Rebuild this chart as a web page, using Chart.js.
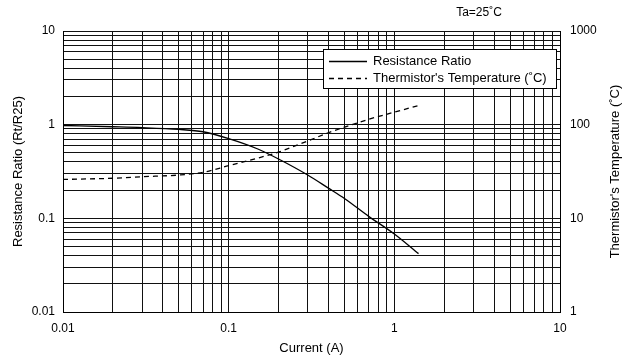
<!DOCTYPE html>
<html>
<head>
<meta charset="utf-8">
<script src="https://cdn.jsdelivr.net/npm/chart.js@4"></script>
<style>
  body { margin: 0; background: #fff; }
  #wrap { width: 636px; height: 364px; }
</style>
</head>
<body>
<div id="wrap"><canvas id="myChart"></canvas></div>
<script>
// current through the thermistor (A)
const current = [0.01, 0.02, 0.03, 0.05, 0.07, 0.1, 0.15, 0.2, 0.3, 0.4, 0.5, 0.7, 1.0, 1.4];
// Rt/R25
const ratio = [0.98, 0.95, 0.93, 0.89, 0.84, 0.71, 0.55, 0.43, 0.29, 0.21, 0.163, 0.105, 0.068, 0.042];
// thermistor temperature (deg C)
const temperature = [26, 26.8, 27.8, 29, 31, 36.5, 44, 51, 67, 82, 94, 114, 136, 160];

const xTicks = [0.01, 0.1, 1, 10];
const leftTicks = [0.01, 0.1, 1, 10];
const rightTicks = [1, 10, 100, 1000];

const fontFamily = '"Liberation Sans", Arial, sans-serif';

// 1..9 per decade so every minor line gets drawn
function decadeTicks(decades) {
  const out = [];
  for (let i = 0; i < decades.length - 1; i++) {
    for (let m = 1; m < 10; m++) out.push({ value: +(decades[i] * m).toPrecision(3) });
  }
  out.push({ value: decades[decades.length - 1] });
  return out;
}

function decadeLabel(v) {
  const l = Math.log10(v);
  return Math.abs(l - Math.round(l)) < 1e-9 ? String(v) : '';
}

const data = {
  datasets: [{
    label: 'Resistance Ratio',
    data: current.map((c, i) => ({ x: c, y: ratio[i] })),
    yAxisID: 'y',
    borderColor: '#000',
    borderWidth: 1.3,
    pointRadius: 0,
    cubicInterpolationMode: 'monotone'
  }, {
    label: "Thermistor's Temperature (˚C)",
    data: current.map((c, i) => ({ x: c, y: temperature[i] })),
    yAxisID: 'y1',
    borderColor: '#000',
    borderWidth: 1.3,
    borderDash: [5, 4],
    pointRadius: 0,
    cubicInterpolationMode: 'monotone'
  }]
};

// boxed legend inside the plot, the ambient note, and the right axis title
// (read bottom-to-top like the left one)
const boxLegend = {
  id: 'boxLegend',
  afterDraw(chart) {
    const { ctx, chartArea } = chart;
    ctx.save();
    const bx = chartArea.left + 260, by = chartArea.top + 18;
    const bw = chartArea.right - 4 - bx, bh = 39;
    ctx.fillStyle = '#fff';
    ctx.fillRect(bx, by, bw, bh);
    ctx.strokeStyle = '#000';
    ctx.lineWidth = 1;
    ctx.strokeRect(bx + 0.5, by + 0.5, bw, bh);
    ctx.font = '13px ' + fontFamily;
    ctx.fillStyle = '#000';
    ctx.textBaseline = 'middle';
    chart.data.datasets.forEach((ds, i) => {
      const y = Math.round(by + 12 + i * 16.5) + 0.5;
      ctx.setLineDash(ds.borderDash || []);
      ctx.lineWidth = 1.3;
      ctx.beginPath();
      ctx.moveTo(bx + 6, y);
      ctx.lineTo(bx + 44, y);
      ctx.stroke();
      ctx.setLineDash([]);
      ctx.fillText(ds.label, bx + 50, y);
    });
    ctx.textAlign = 'center';
    ctx.font = '12px ' + fontFamily;
    ctx.fillText('Ta=25˚C', chartArea.right - 81, 13);

    ctx.font = '13px ' + fontFamily;
    ctx.translate(chart.width - 21, (chartArea.top + chartArea.bottom) / 2);
    ctx.rotate(-Math.PI / 2);
    ctx.fillText("Thermistor's Temperature (˚C)", 0, 0);
    ctx.restore();
  }
};

const gridStyle = { color: '#111', lineWidth: 1, drawTicks: false };
const tickFont = { family: fontFamily, size: 12 };
const titleFont = { family: fontFamily, size: 13 };

const config = {
  type: 'line',
  data: data,
  options: {
    responsive: true,
    maintainAspectRatio: false,
    animation: false,
    layout: { padding: { top: 31, left: 0, right: 0, bottom: 0 } },
    plugins: { legend: { display: false }, tooltip: { enabled: false } },
    scales: {
      x: {
        type: 'logarithmic',
        min: 0.01,
        max: 10,
        grid: gridStyle,
        border: { color: '#000' },
        afterBuildTicks: s => { s.ticks = decadeTicks(xTicks); },
        afterFit: s => { s.height = 52; },
        ticks: { color: '#000', font: tickFont, padding: 9, autoSkip: false, maxRotation: 0, callback: decadeLabel },
        title: { display: true, text: 'Current (A)', color: '#000', font: titleFont, padding: { bottom: 8 } }
      },
      y: {
        type: 'logarithmic',
        position: 'left',
        min: 0.01,
        max: 10,
        grid: gridStyle,
        border: { color: '#000' },
        afterBuildTicks: s => { s.ticks = decadeTicks(leftTicks); },
        afterFit: s => { s.width = 63; },
        ticks: { color: '#000', font: tickFont, padding: 8, autoSkip: false, callback: decadeLabel },
        title: { display: true, text: 'Resistance Ratio (Rt/R25)', color: '#000', font: titleFont, padding: { top: 11 } }
      },
      y1: {
        type: 'logarithmic',
        position: 'right',
        min: 1,
        max: 1000,
        grid: { display: false, drawTicks: false },
        border: { color: '#000' },
        afterBuildTicks: s => { s.ticks = decadeTicks(rightTicks); },
        afterFit: s => { s.width = 76; },
        ticks: { color: '#000', font: tickFont, padding: 10, autoSkip: false, callback: decadeLabel }
      }
    }
  },
  plugins: [boxLegend]
};

const myChart = new Chart(document.getElementById('myChart'), config);
</script>
</body>
</html>
